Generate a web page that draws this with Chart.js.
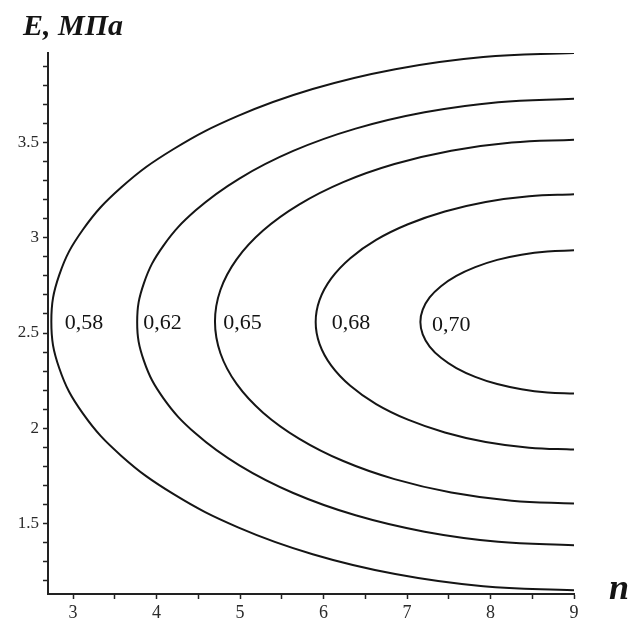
<!DOCTYPE html>
<html>
<head>
<meta charset="utf-8">
<script src="https://cdn.jsdelivr.net/npm/chart.js@4/dist/chart.umd.min.js"></script>
<style>
  html, body { margin: 0; padding: 0; background: #fff; }
  #wrap { width: 633px; height: 623px; }
</style>
</head>
<body>
<div id="wrap"><canvas id="chart" width="633" height="623"></canvas></div>
<script>
// contour levels and where their labels sit (n, E)
const levels = ['0,58', '0,62', '0,65', '0,68', '0,70'];
const labelN = [3.13, 4.07, 5.03, 6.33, 7.53];
const labelE = [2.55, 2.55, 2.55, 2.55, 2.54];

// points of each contour line (n, E)
const curve058 = [
    [9, 3.970], [7.913, 3.949], [6.859, 3.885], [5.870, 3.781], [4.976, 3.640], [4.205, 3.466],
    [3.579, 3.265], [3.117, 3.042], [2.835, 2.805], [2.740, 2.560], [2.835, 2.315], [3.117, 2.078],
    [3.579, 1.855], [4.205, 1.654], [4.976, 1.480], [5.870, 1.339], [6.859, 1.235], [7.913, 1.171],
    [9, 1.150]
];
const curve062 = [
    [9, 3.730], [8.092, 3.712], [7.211, 3.659], [6.384, 3.573], [5.637, 3.456], [4.992, 3.311],
    [4.469, 3.144], [4.083, 2.959], [3.848, 2.761], [3.768, 2.558], [3.848, 2.355], [4.083, 2.157],
    [4.469, 1.972], [4.992, 1.805], [5.637, 1.660], [6.384, 1.543], [7.211, 1.457], [8.092, 1.404],
    [9, 1.386]
];
const curve065 = [
    [9, 3.515], [8.254, 3.500], [7.529, 3.457], [6.850, 3.387], [6.236, 3.292], [5.706, 3.174],
    [5.276, 3.038], [4.959, 2.887], [4.765, 2.726], [4.700, 2.560], [4.765, 2.394], [4.959, 2.233],
    [5.276, 2.082], [5.706, 1.946], [6.236, 1.828], [6.850, 1.733], [7.529, 1.663], [8.254, 1.620],
    [9, 1.605]
];
const curve068 = [
    [9, 3.228], [8.463, 3.218], [7.942, 3.188], [7.453, 3.138], [7.011, 3.071], [6.630, 2.989],
    [6.321, 2.893], [6.093, 2.787], [5.953, 2.674], [5.906, 2.558], [5.953, 2.442], [6.093, 2.329],
    [6.321, 2.223], [6.630, 2.127], [7.011, 2.045], [7.453, 1.978], [7.942, 1.928], [8.463, 1.898],
    [9, 1.888]
];
const curve070 = [
    [9, 2.934], [8.681, 2.928], [8.371, 2.911], [8.080, 2.884], [7.817, 2.846], [7.591, 2.800],
    [7.407, 2.746], [7.271, 2.687], [7.188, 2.623], [7.160, 2.558], [7.188, 2.493], [7.271, 2.429],
    [7.407, 2.370], [7.591, 2.316], [7.817, 2.270], [8.080, 2.232], [8.371, 2.205], [8.681, 2.188],
    [9, 2.182]
];
const curves = [curve058, curve062, curve065, curve068, curve070];

// axes
const xMin = 2.7, xMax = 9;
const yMin = 1.13, yMax = 3.97;
const xTicks = [3, 3.5, 4, 4.5, 5, 5.5, 6, 6.5, 7, 7.5, 8, 8.5, 9];
const xLabeled = [3, 4, 5, 6, 7, 8, 9];
const yTicks = [1.2, 1.3, 1.4, 1.5, 1.6, 1.7, 1.8, 1.9, 2, 2.1, 2.2, 2.3, 2.4, 2.5, 2.6, 2.7,
    2.8, 2.9, 3, 3.1, 3.2, 3.3, 3.4, 3.5, 3.6, 3.7, 3.8, 3.9];
const yLabeled = [1.5, 2, 2.5, 3, 3.5];

const serif = '"Liberation Serif", "DejaVu Serif", serif';

const textPlugin = {
    id: 'texts',
    afterDatasetsDraw(chart) {
        const { ctx, scales } = chart;
        ctx.save();
        ctx.fillStyle = '#141414';
        ctx.font = '22px ' + serif;
        ctx.textAlign = 'center';
        ctx.textBaseline = 'middle';
        levels.forEach((t, i) => {
            ctx.fillText(t, scales.x.getPixelForValue(labelN[i]), scales.y.getPixelForValue(labelE[i]));
        });
        // axis names
        ctx.font = 'italic bold 30px ' + serif;
        ctx.textAlign = 'left';
        ctx.textBaseline = 'alphabetic';
        ctx.fillText('E, МПа', 23, 35);
        ctx.font = 'italic bold 36px ' + serif;
        ctx.fillText('n', 609, 599);
        ctx.restore();
    }
};

new Chart(document.getElementById('chart'), {
    type: 'scatter',
    data: {
        datasets: curves.map((c, i) => ({
            label: levels[i],
            data: c.map(p => ({ x: p[0], y: p[1] })),
            showLine: true,
            borderColor: '#151515',
            borderWidth: 2,
            pointRadius: 0,
            tension: 0.4,
            fill: false
        }))
    },
    options: {
        responsive: false,
        animation: false,
        layout: { padding: { left: 0, top: 53, right: 59, bottom: 0 } },
        plugins: { legend: { display: false }, tooltip: { enabled: false } },
        scales: {
            x: {
                type: 'linear',
                min: xMin,
                max: xMax,
                afterBuildTicks: s => { s.ticks = xTicks.map(v => ({ value: v })); },
                afterFit: s => { s.height = 29; },
                border: { display: true, color: '#222', width: 2 },
                grid: { drawOnChartArea: false, drawTicks: true, tickLength: 5, tickColor: '#222', tickWidth: 1.5 },
                ticks: {
                    color: '#2a2a2a',
                    padding: 3,
                    maxRotation: 0,
                    autoSkip: false,
                    font: { family: serif, size: 18 },
                    callback: v => xLabeled.includes(v) ? String(v) : ''
                }
            },
            y: {
                type: 'linear',
                min: yMin,
                max: yMax,
                afterBuildTicks: s => { s.ticks = yTicks.map(v => ({ value: v })); },
                afterFit: s => { s.width = 48; },
                border: { display: true, color: '#222', width: 2 },
                grid: { drawOnChartArea: false, drawTicks: true, tickLength: 5, tickColor: '#222', tickWidth: 1.5 },
                ticks: {
                    color: '#2a2a2a',
                    padding: 4,
                    autoSkip: false,
                    font: { family: serif, size: 17 },
                    callback: v => yLabeled.includes(Math.round(v * 10) / 10) ? String(Math.round(v * 10) / 10) : ''
                }
            }
        }
    },
    plugins: [textPlugin]
});
</script>
</body>
</html>
